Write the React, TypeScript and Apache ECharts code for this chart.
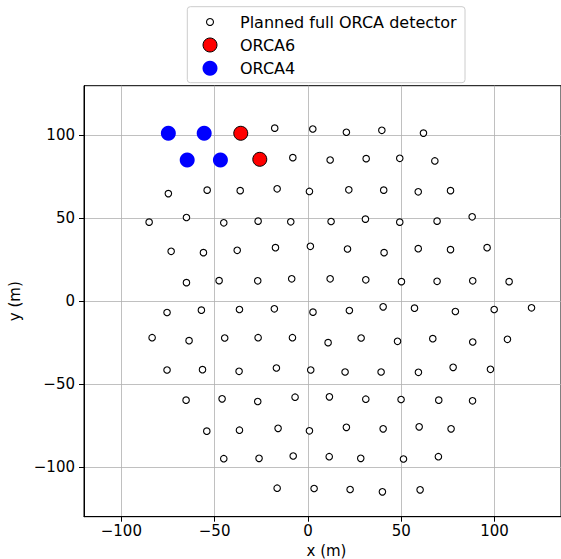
import React, { useEffect, useRef } from "react";
import * as echarts from "echarts";

const fullDetector: [number, number][] = [
  [-74.8, 101.3], [-55.6, 101.3], [-36.0, 101.3], [-17.8, 104.4], [2.6, 103.9], [20.6, 101.9], [39.6, 103.1], [61.9, 101.4],
  [-64.7, 85.2], [-46.9, 85.2], [-25.8, 85.6], [-8.1, 86.6], [11.9, 85.2], [31.2, 86.0], [49.2, 86.2], [68.0, 84.6],
  [-74.8, 64.9], [-54.0, 67.0], [-36.3, 66.7], [-16.5, 67.8], [0.8, 66.2], [21.9, 67.2], [40.6, 67.0], [59.1, 66.0], [76.4, 66.7],
  [-85.1, 47.7], [-65.1, 50.5], [-45.1, 47.3], [-26.7, 48.3], [-9.2, 47.9], [12.4, 48.1], [30.8, 49.5], [49.2, 47.7], [69.2, 48.3], [88.0, 50.9],
  [-73.3, 30.1], [-56.0, 29.3], [-37.9, 30.7], [-17.4, 32.3], [1.3, 33.1], [21.2, 31.5], [40.8, 29.3], [59.1, 31.7], [76.4, 31.1], [96.0, 32.3],
  [-65.1, 11.2], [-47.6, 12.4], [-26.9, 12.3], [-8.7, 13.5], [11.9, 13.5], [31.0, 12.9], [50.1, 11.8], [69.2, 12.0], [88.3, 12.3], [107.8, 11.8],
  [-75.5, -6.8], [-57.1, -5.4], [-36.7, -5.0], [-18.0, -4.6], [2.7, -6.6], [22.2, -5.6], [40.3, -3.4], [57.1, -4.2], [79.0, -6.2], [99.8, -5.0], [119.8, -4.0],
  [-83.5, -22.0], [-63.7, -23.8], [-44.6, -22.2], [-26.7, -22.0], [-8.3, -22.0], [10.8, -25.0], [28.5, -22.2], [48.0, -24.2], [66.9, -22.6], [88.3, -24.6], [106.9, -23.0],
  [-75.5, -41.5], [-56.5, -41.3], [-36.9, -42.3], [-16.9, -40.3], [1.5, -41.5], [19.9, -42.7], [39.2, -42.7], [59.2, -42.9], [77.8, -39.9], [97.8, -41.1],
  [-65.3, -59.7], [-46.0, -58.9], [-26.9, -60.5], [-6.9, -57.9], [11.5, -57.7], [31.0, -59.1], [49.9, -59.3], [70.1, -59.7], [88.2, -60.1],
  [-54.2, -78.4], [-36.7, -77.8], [-16.0, -76.7], [0.8, -78.2], [20.6, -76.1], [40.3, -77.0], [59.6, -75.8], [76.7, -77.0],
  [-45.1, -95.0], [-26.2, -94.8], [-7.9, -93.4], [11.4, -93.8], [28.3, -94.8], [51.2, -95.2], [69.9, -93.8],
  [-16.5, -112.8], [3.3, -113.0], [22.6, -113.6], [39.9, -115.0], [60.1, -113.8],
];

const orca6: [number, number][] = [
  [-36.0, 101.3],
  [-25.8, 85.6],
];

const orca4: [number, number][] = [
  [-74.8, 101.3],
  [-55.6, 101.3],
  [-64.7, 85.2],
  [-46.9, 85.2],
];

const xTicks = [-100, -50, 0, 50, 100];
const yTicks = [-100, -50, 0, 50, 100];
const legendLabels = ["Planned full ORCA detector", "ORCA6", "ORCA4"];

const FONT = "DejaVu Sans";
const fmt = (v: number) => String(v).replace("-", "\u2212");

export default function App() {
  const ref = useRef<HTMLDivElement>(null);
  useEffect(() => {
    if (!ref.current) return;
    const chart = echarts.init(ref.current, null, { renderer: "svg" });
    const legendRowY = [22, 45, 68.3];
    const legendMarkers: any[] = [
      { type: "circle", shape: { cx: 210, cy: legendRowY[0], r: 3.5 }, style: { fill: "#fff", stroke: "#000", lineWidth: 1.1 } },
      { type: "circle", shape: { cx: 210, cy: legendRowY[1], r: 7 }, style: { fill: "#ff0000", stroke: "#000", lineWidth: 1 } },
      { type: "circle", shape: { cx: 210, cy: legendRowY[2], r: 7.5 }, style: { fill: "#0000ff" } },
    ];
    const legendTexts = legendLabels.map((t, i) => ({
      type: "text",
      x: 240,
      y: legendRowY[i],
      style: { text: t, fill: "#000", font: `16px '${FONT}'`, verticalAlign: "middle" },
    }));
    chart.setOption({
      animation: false,
      textStyle: { fontFamily: FONT },
      grid: {
        left: 84,
        top: 85.7,
        bottom: 42.3,
        right: 0,
        containLabel: false,
        outerBoundsMode: "none",
        show: true,
        borderColor: "#000",
        borderWidth: 1,
        backgroundColor: "#fff",
      },
      xAxis: {
        type: "value",
        min: -120,
        max: 135.6,
        name: "x (m)",
        nameLocation: "middle",
        nameGap: 26,
        nameTextStyle: { fontSize: 15, color: "#000", fontFamily: FONT, padding: [0, 0, 0, 8] },
        axisLine: { show: true, onZero: false, lineStyle: { color: "#000", width: 1 } },
        axisTick: { show: true, length: 5, customValues: xTicks, lineStyle: { color: "#000" } },
        axisLabel: { customValues: xTicks, formatter: fmt, fontSize: 15, color: "#000", margin: 7, fontFamily: FONT },
        splitLine: { show: true, lineStyle: { color: "#b0b0b0", width: 0.8 } },
      },
      yAxis: {
        type: "value",
        min: -130,
        max: 130,
        name: "y (m)",
        nameLocation: "middle",
        nameGap: 58,
        nameTextStyle: { fontSize: 15, color: "#000", fontFamily: FONT },
        axisLine: { show: true, onZero: false, lineStyle: { color: "#000", width: 1 } },
        axisTick: { show: true, length: 5, customValues: yTicks, lineStyle: { color: "#000" } },
        axisLabel: { customValues: yTicks, formatter: fmt, fontSize: 15, color: "#000", margin: 9, fontFamily: FONT },
        splitLine: { show: true, lineStyle: { color: "#b0b0b0", width: 0.8 } },
      },
      series: [
        {
          name: legendLabels[0],
          type: "scatter",
          data: fullDetector,
          symbol: "circle",
          symbolSize: 6.5,
          itemStyle: { color: "#fff", borderColor: "#000", borderWidth: 1.1, opacity: 1 },
          z: 2,
        },
        {
          name: legendLabels[1],
          type: "scatter",
          data: orca6,
          symbol: "circle",
          symbolSize: 14,
          itemStyle: { color: "#ff0000", borderColor: "#000", borderWidth: 1, opacity: 1 },
          z: 3,
        },
        {
          name: legendLabels[2],
          type: "scatter",
          data: orca4,
          symbol: "circle",
          symbolSize: 15,
          itemStyle: { color: "#0000ff", opacity: 1 },
          z: 4,
        },
      ],
      graphic: [
        {
          type: "group",
          z: 100,
          children: [
            {
              type: "rect",
              shape: { x: 187.3, y: 6.7, width: 277.7, height: 76, r: 3 },
              style: { fill: "rgba(255,255,255,0.8)", stroke: "#cccccc", lineWidth: 1 },
            },
            ...legendMarkers,
            ...legendTexts,
          ],
        },
      ],
    });
    return () => chart.dispose();
  }, []);
  return (
    <div
      ref={ref}
      style={{ position: "fixed", left: 0, top: 0, width: 561, height: 559, background: "#fff" }}
    />
  );
}
